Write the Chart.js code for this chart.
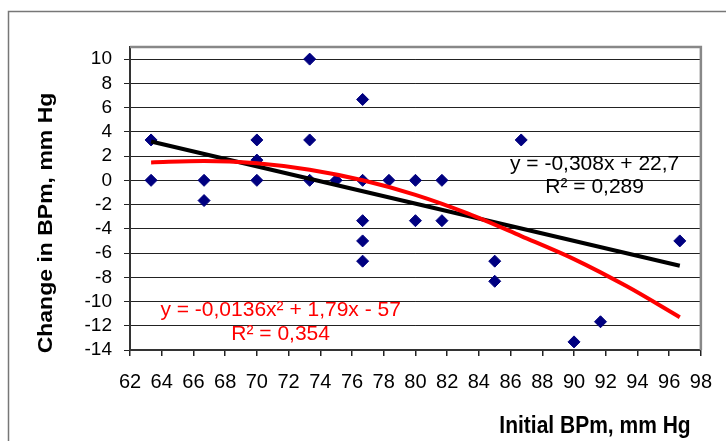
<!DOCTYPE html>
<html>
<head>
<meta charset="utf-8">
<script src="https://cdn.jsdelivr.net/npm/chart.js@4.4.1/dist/chart.umd.min.js"></script>
<style>
  html, body { margin: 0; padding: 0; background: #fff; }
  canvas { display: block; }
</style>
</head>
<body>
<canvas id="myChart" width="726" height="441"></canvas>
<script>
// measured points
var initialBP = [63.33, 63.33, 66.67, 66.67, 70, 70, 70, 73.33, 73.33, 73.33, 75,
    76.67, 76.67, 76.67, 76.67, 76.67, 78.33, 80, 80, 81.67, 81.67, 85, 85, 86.67, 90, 91.67, 96.67];
var changeBP = [3.33, 0, 0, -1.67, 3.33, 1.67, 0, 10, 3.33, 0, 0,
    6.67, 0, -3.33, -5, -6.67, 0, 0, -3.33, 0, -3.33, -6.67, -8.33, 3.33, -13.33, -11.67, -5];

// trend lines
var linearX = [63.33, 96.67];
var linearY = [3.2, -7.05];
var polyX = [63.33, 66.67, 70, 73.33, 76.67, 80, 83.33, 86.67, 90, 93.33, 96.67];
var polyY = [1.48, 1.6, 1.4, 0.87, 0.0, -1.2, -2.75, -4.6, -6.5, -8.75, -11.3];

var xTicks = [62, 64, 66, 68, 70, 72, 74, 76, 78, 80, 82, 84, 86, 88, 90, 92, 94, 96, 98];
var yTicks = [-14, -12, -10, -8, -6, -4, -2, 0, 2, 4, 6, 8, 10];

var linearLabel = ['y = -0,308x + 22,7', 'R\u00b2 = 0,289'];
var polyLabel = ['y = -0,0136x\u00b2 + 1,79x - 57', 'R\u00b2 = 0,354'];
var xTitle = 'Initial BPm, mm Hg';
var yTitle = 'Change in BPm, mm Hg';

function toPoints(xs, ys) {
    return xs.map(function (x, i) { return { x: x, y: ys[i] }; });
}

var FONT = 'Arial, "Liberation Sans", sans-serif';

// frame, plot border, titles and trendline equations
var decor = {
    id: 'decor',
    beforeDraw: function (chart) {
        var c = chart.ctx;
        c.save();
        c.fillStyle = '#fff';
        c.fillRect(0, 0, chart.width, chart.height);
        c.strokeStyle = '#777';
        c.lineWidth = 1.5;
        c.beginPath();
        c.moveTo(726, 11.5);
        c.lineTo(8.5, 11.5);
        c.lineTo(8.5, 441);
        c.stroke();
        c.restore();
    },
    beforeDatasetsDraw: function (chart) {
        var a = chart.chartArea, c = chart.ctx;
        c.save();
        c.strokeStyle = '#888';
        c.lineWidth = 2.5;
        c.beginPath();
        c.moveTo(a.left, a.top);
        c.lineTo(a.right, a.top);
        c.lineTo(a.right, a.bottom);
        c.stroke();
        c.restore();
    },
    afterDraw: function (chart) {
        var c = chart.ctx;
        var xs = chart.scales.x, ys = chart.scales.y;
        c.save();
        c.textAlign = 'center';
        c.textBaseline = 'middle';
        c.font = '21px ' + FONT;
        c.fillStyle = '#000';
        c.fillText(linearLabel[0], xs.getPixelForValue(91.3), ys.getPixelForValue(1.3));
        c.fillText(linearLabel[1], xs.getPixelForValue(91.3), ys.getPixelForValue(-0.55));
        c.fillStyle = '#ff0000';
        c.fillText(polyLabel[0], xs.getPixelForValue(71.5), ys.getPixelForValue(-10.75));
        c.fillText(polyLabel[1], xs.getPixelForValue(71.5), ys.getPixelForValue(-12.7));

        c.fillStyle = '#000';
        c.save();
        c.font = 'bold 21px ' + FONT;
        c.translate(595, 427);
        c.scale(1, 1.12);
        c.fillText(xTitle, 0, 0);
        c.restore();
        c.font = 'bold 23px ' + FONT;
        c.translate(47, 223);
        c.rotate(-Math.PI / 2);
        c.scale(1, 0.85);
        c.fillText(yTitle, 0, 0);
        c.restore();
    }
};

var ctx = document.getElementById('myChart').getContext('2d');
var myChart = new Chart(ctx, {
    type: 'scatter',
    data: {
        datasets: [
            {
                label: 'poly',
                data: toPoints(polyX, polyY),
                showLine: true,
                borderColor: '#ff0000',
                borderWidth: 4,
                pointRadius: 0,
                tension: 0.4,
                cubicInterpolationMode: 'monotone',
                order: 1
            },
            {
                label: 'linear',
                data: toPoints(linearX, linearY),
                showLine: true,
                borderColor: '#000',
                borderWidth: 4,
                pointRadius: 0,
                order: 2
            },
            {
                label: 'Change in BPm',
                data: toPoints(initialBP, changeBP),
                pointStyle: 'rectRot',
                pointRadius: 6,
                backgroundColor: '#000080',
                borderColor: '#000080',
                borderWidth: 1,
                order: 3
            }
        ]
    },
    options: {
        responsive: false,
        animation: false,
        devicePixelRatio: 1,
        layout: { padding: { top: 47, right: 23, left: 0, bottom: 0 } },
        plugins: { legend: { display: false }, tooltip: { enabled: false } },
        scales: {
            x: {
                type: 'linear',
                min: 62,
                max: 98,
                afterBuildTicks: function (axis) {
                    axis.ticks = xTicks.map(function (v) { return { value: v }; });
                },
                afterFit: function (axis) { axis.height = 91; },
                ticks: { color: '#000', font: { size: 20, family: FONT }, padding: 14, maxRotation: 0, autoSkip: false },
                grid: { drawOnChartArea: false, drawTicks: true, tickLength: 6, color: '#222', lineWidth: 1.5 },
                border: { color: '#333', width: 2 }
            },
            y: {
                min: -14,
                max: 11,
                afterBuildTicks: function (axis) {
                    axis.ticks = yTicks.map(function (v) { return { value: v }; });
                },
                afterFit: function (axis) { axis.width = 130; },
                ticks: { color: '#000', font: { size: 19, family: FONT }, padding: 12, autoSkip: false },
                grid: { color: '#222', lineWidth: 1, tickLength: 6 },
                border: { color: '#333', width: 2 }
            }
        }
    },
    plugins: [decor]
});
</script>
</body>
</html>
